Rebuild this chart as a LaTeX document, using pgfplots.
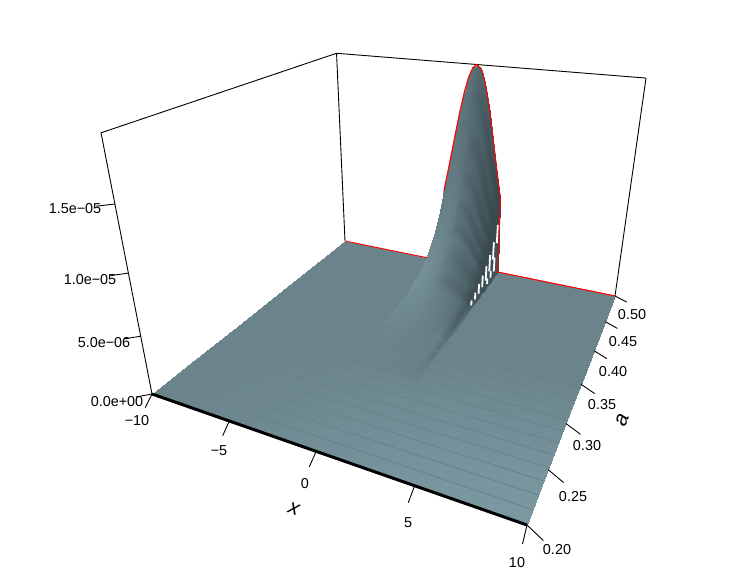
\documentclass[border=0pt]{standalone}
\usepackage{pgfplots}
\usepackage{pgfplotstable}
\usepackage{fontspec}
\setmainfont{Liberation Sans}
\pgfplotsset{compat=1.18}

% z is kept in units of 1e-5
\pgfplotstableread[row sep=\\]{
x a z s\\
-10 0.50 0 0.5\\ -5 0.50 0 0.5\\ 0 0.50 0 0.5\\ 5 0.50 0 0.5\\ 10 0.50 0 0.5\\
-10 0.36 0 0.5\\ -5 0.36 0 0.5\\ 0 0.36 0 0.5\\ 5 0.36 0 0.5\\ 10 0.36 0 0.5\\
-10 0.32 0 0.5\\ -5 0.32 0 0.5\\ 0 0.32 0 0.51\\ 5 0.32 0 0.53\\ 10 0.32 0 0.55\\
-10 0.28 0 0.5\\ -5 0.28 0 0.51\\ 0 0.28 0 0.54\\ 5 0.28 0 0.58\\ 10 0.28 0 0.6\\
-10 0.24 0 0.5\\ -5 0.24 0 0.52\\ 0 0.24 0 0.57\\ 5 0.24 0 0.62\\ 10 0.24 0 0.66\\
-10 0.20 0 0.5\\ -5 0.20 0 0.53\\ 0 0.20 0 0.6\\ 5 0.20 0 0.66\\ 10 0.20 0 0.7\\
}\ground

\pgfplotstableread[row sep=\\]{
x a z s\\
-2.1 0.50 0 0.5\\ -2 0.50 0.760 0.42\\ -1.5 0.50 1.152 0.42\\ -1 0.50 1.552 0.4\\ -0.75 0.50 1.724 0.39\\ -0.5 0.50 1.856 0.37\\ -0.25 0.50 1.94 0.35\\ 0 0.50 1.97 0.32\\ 0.25 0.50 1.94 0.3\\ 0.5 0.50 1.856 0.27\\ 0.75 0.50 1.724 0.24\\ 1 0.50 1.552 0.2\\ 1.5 0.50 1.152 0.16\\ 2 0.50 0.760 0.05\\ 2.1 0.50 0 0.15\\
-2.1 0.495 0 0.5\\ -2 0.495 0.665 0.42\\ -1.5 0.495 1.009 0.42\\ -1 0.495 1.359 0.4\\ -0.75 0.495 1.509 0.39\\ -0.5 0.495 1.624 0.37\\ -0.25 0.495 1.698 0.35\\ 0 0.495 1.724 0.28\\ 0.25 0.495 1.698 0.24\\ 0.5 0.495 1.624 0.2\\ 0.75 0.495 1.509 0.17\\ 1 0.495 1.359 0.13\\ 1.5 0.495 1.009 0.08\\ 2 0.495 0.665 0.05\\ 2.1 0.495 0 0.15\\
-2.1 0.49 0 0.52\\ -2 0.49 0.582 0.42\\ -1.5 0.49 0.883 0.42\\ -1 0.49 1.189 0.4\\ -0.75 0.49 1.320 0.39\\ -0.5 0.49 1.421 0.37\\ -0.25 0.49 1.486 0.35\\ 0 0.49 1.509 0.32\\ 0.25 0.49 1.486 0.3\\ 0.5 0.49 1.421 0.27\\ 0.75 0.49 1.320 0.24\\ 1 0.49 1.189 0.2\\ 1.5 0.49 0.883 0.16\\ 2 0.49 0.582 0.05\\ 2.1 0.49 0 0.15\\
-2.1 0.485 0 0.55\\ -2 0.485 0.510 0.44\\ -1.5 0.485 0.772 0.44\\ -1 0.485 1.040 0.42\\ -0.75 0.485 1.155 0.41\\ -0.5 0.485 1.243 0.39\\ -0.25 0.485 1.300 0.37\\ 0 0.485 1.320 0.29\\ 0.25 0.485 1.300 0.25\\ 0.5 0.485 1.243 0.21\\ 0.75 0.485 1.155 0.18\\ 1 0.485 1.040 0.14\\ 1.5 0.485 0.772 0.09\\ 2 0.485 0.510 0.05\\ 2.1 0.485 0 0.15\\
-2.1 0.48 0 0.58\\ -2 0.48 0.446 0.47\\ -1.5 0.48 0.676 0.46\\ -1 0.48 0.910 0.44\\ -0.75 0.48 1.011 0.43\\ -0.5 0.48 1.088 0.41\\ -0.25 0.48 1.138 0.38\\ 0 0.48 1.155 0.34\\ 0.25 0.48 1.138 0.31\\ 0.5 0.48 1.088 0.28\\ 0.75 0.48 1.011 0.25\\ 1 0.48 0.910 0.21\\ 1.5 0.48 0.676 0.17\\ 2 0.48 0.446 0.05\\ 2.1 0.48 0 0.15\\
-2.1 0.475 0 0.62\\ -2 0.475 0.390 0.5\\ -1.5 0.475 0.591 0.48\\ -1 0.475 0.797 0.46\\ -0.75 0.475 0.885 0.45\\ -0.5 0.475 0.952 0.43\\ -0.25 0.475 0.996 0.4\\ 0 0.475 1.011 0.32\\ 0.25 0.475 0.996 0.28\\ 0.5 0.475 0.952 0.24\\ 0.75 0.475 0.885 0.2\\ 1 0.475 0.797 0.16\\ 1.5 0.475 0.591 0.1\\ 2 0.475 0.390 0.05\\ 2.1 0.475 0 0.15\\
-2.1 0.47 0 0.66\\ -2 0.47 0.342 0.52\\ -1.5 0.47 0.518 0.5\\ -1 0.47 0.697 0.48\\ -0.75 0.47 0.774 0.46\\ -0.5 0.47 0.834 0.44\\ -0.25 0.47 0.872 0.41\\ 0 0.47 0.885 0.38\\ 0.25 0.47 0.872 0.35\\ 0.5 0.47 0.834 0.32\\ 0.75 0.47 0.774 0.28\\ 1 0.47 0.697 0.25\\ 1.5 0.47 0.518 0.2\\ 2 0.47 0.342 0.05\\ 2.1 0.47 0 0.15\\
-2.1 0.465 0 0.7\\ -2 0.465 0.299 0.54\\ -1.5 0.465 0.453 0.52\\ -1 0.465 0.610 0.5\\ -0.75 0.465 0.677 0.48\\ -0.5 0.465 0.729 0.46\\ -0.25 0.465 0.762 0.43\\ 0 0.465 0.774 0.33\\ 0.25 0.465 0.762 0.29\\ 0.5 0.465 0.729 0.26\\ 0.75 0.465 0.677 0.22\\ 1 0.465 0.610 0.19\\ 1.5 0.465 0.453 0.12\\ 2 0.465 0.299 0.05\\ 2.1 0.465 0 0.15\\
-2.1 0.46 0 0.72\\ -2 0.46 0.261 0.56\\ -1.5 0.46 0.396 0.54\\ -1 0.46 0.533 0.51\\ -0.75 0.46 0.592 0.49\\ -0.5 0.46 0.638 0.47\\ -0.25 0.46 0.667 0.44\\ 0 0.46 0.677 0.39\\ 0.25 0.46 0.667 0.36\\ 0.5 0.46 0.638 0.33\\ 0.75 0.46 0.592 0.29\\ 1 0.46 0.533 0.26\\ 1.5 0.46 0.396 0.2\\ 2 0.46 0.261 0.05\\ 2.1 0.46 0 0.15\\
-2.1 0.455 0 0.75\\ -2 0.455 0.229 0.58\\ -1.5 0.455 0.346 0.56\\ -1 0.455 0.466 0.53\\ -0.75 0.455 0.518 0.51\\ -0.5 0.455 0.558 0.48\\ -0.25 0.455 0.583 0.45\\ 0 0.455 0.592 0.35\\ 0.25 0.455 0.583 0.31\\ 0.5 0.455 0.558 0.28\\ 0.75 0.455 0.518 0.24\\ 1 0.455 0.466 0.2\\ 1.5 0.455 0.346 0.14\\ 2 0.455 0.229 0.05\\ 2.1 0.455 0 0.15\\
-2.1 0.45 0 0.78\\ -2 0.45 0.200 0.6\\ -1.5 0.45 0.304 0.58\\ -1 0.45 0.409 0.55\\ -0.75 0.45 0.454 0.53\\ -0.5 0.45 0.489 0.5\\ -0.25 0.45 0.511 0.46\\ 0 0.45 0.519 0.44\\ 0.25 0.45 0.511 0.41\\ 0.5 0.45 0.489 0.38\\ 0.75 0.45 0.454 0.34\\ 1 0.45 0.409 0.31\\ 1.5 0.45 0.304 0.26\\ 2 0.45 0.200 0.08\\ 2.1 0.45 0 0.15\\
-2.1 0.44 0 0.8\\ -2 0.44 0.153 0.62\\ -1.5 0.44 0.232 0.6\\ -1 0.44 0.313 0.57\\ -0.75 0.44 0.347 0.55\\ -0.5 0.44 0.374 0.52\\ -0.25 0.44 0.391 0.48\\ 0 0.44 0.397 0.4\\ 0.25 0.44 0.391 0.36\\ 0.5 0.44 0.374 0.33\\ 0.75 0.44 0.347 0.29\\ 1 0.44 0.313 0.26\\ 1.5 0.44 0.232 0.19\\ 2 0.44 0.153 0.08\\ 2.1 0.44 0 0.15\\
-2.1 0.43 0 0.8\\ -2 0.43 0.117 0.62\\ -1.5 0.43 0.178 0.6\\ -1 0.43 0.240 0.57\\ -0.75 0.43 0.266 0.55\\ -0.5 0.43 0.286 0.52\\ -0.25 0.43 0.299 0.48\\ 0 0.43 0.304 0.44\\ 0.25 0.43 0.299 0.41\\ 0.5 0.43 0.286 0.38\\ 0.75 0.43 0.266 0.34\\ 1 0.43 0.240 0.31\\ 1.5 0.43 0.178 0.26\\ 2 0.43 0.117 0.08\\ 2.1 0.43 0 0.2\\
-2.1 0.42 0 0.8\\ -2 0.42 0.090 0.62\\ -1.5 0.42 0.136 0.6\\ -1 0.42 0.184 0.57\\ -0.75 0.42 0.204 0.55\\ -0.5 0.42 0.219 0.52\\ -0.25 0.42 0.230 0.48\\ 0 0.42 0.233 0.42\\ 0.25 0.42 0.230 0.38\\ 0.5 0.42 0.219 0.35\\ 0.75 0.42 0.204 0.31\\ 1 0.42 0.184 0.28\\ 1.5 0.42 0.136 0.22\\ 2 0.42 0.090 0.1\\ 2.1 0.42 0 0.25\\
-2.1 0.41 0 0.75\\ -2 0.41 0.069 0.6\\ -1.5 0.41 0.104 0.58\\ -1 0.41 0.140 0.56\\ -0.75 0.41 0.156 0.55\\ -0.5 0.41 0.168 0.54\\ -0.25 0.41 0.175 0.52\\ 0 0.41 0.178 0.49\\ 0.25 0.41 0.175 0.47\\ 0.5 0.41 0.168 0.45\\ 0.75 0.41 0.156 0.43\\ 1 0.41 0.140 0.41\\ 1.5 0.41 0.104 0.36\\ 2 0.41 0.069 0.2\\ 2.1 0.41 0 0.35\\
-2.1 0.40 0 0.75\\ -2 0.40 0.052 0.58\\ -1.5 0.40 0.080 0.57\\ -1 0.40 0.107 0.56\\ -0.75 0.40 0.119 0.55\\ -0.5 0.40 0.128 0.54\\ -0.25 0.40 0.134 0.52\\ 0 0.40 0.136 0.49\\ 0.25 0.40 0.134 0.47\\ 0.5 0.40 0.128 0.45\\ 0.75 0.40 0.119 0.43\\ 1 0.40 0.107 0.41\\ 1.5 0.40 0.080 0.36\\ 2 0.40 0.052 0.2\\ 2.1 0.40 0 0.35\\
-2.1 0.38 0 0.72\\ -2 0.38 0.031 0.56\\ -1.5 0.38 0.047 0.55\\ -1 0.38 0.063 0.54\\ -0.75 0.38 0.070 0.53\\ -0.5 0.38 0.075 0.53\\ -0.25 0.38 0.079 0.52\\ 0 0.38 0.080 0.5\\ 0.25 0.38 0.079 0.48\\ 0.5 0.38 0.075 0.47\\ 0.75 0.38 0.070 0.45\\ 1 0.38 0.063 0.43\\ 1.5 0.38 0.047 0.4\\ 2 0.38 0.031 0.25\\ 2.1 0.38 0 0.4\\
-2.1 0.36 0 0.62\\ -2 0.36 0.018 0.52\\ -1.5 0.36 0.027 0.52\\ -1 0.36 0.037 0.52\\ -0.75 0.36 0.041 0.52\\ -0.5 0.36 0.044 0.51\\ -0.25 0.36 0.046 0.5\\ 0 0.36 0.047 0.49\\ 0.25 0.36 0.046 0.49\\ 0.5 0.36 0.044 0.48\\ 0.75 0.36 0.041 0.48\\ 1 0.36 0.037 0.47\\ 1.5 0.36 0.027 0.47\\ 2 0.36 0.018 0.35\\ 2.1 0.36 0 0.45\\
-2.1 0.30 0 0.5\\ -2 0.30 0 0.5\\ -1.5 0.30 0 0.5\\ -1 0.30 0 0.5\\ -0.75 0.30 0 0.5\\ -0.5 0.30 0 0.5\\ -0.25 0.30 0 0.5\\ 0 0.30 0 0.5\\ 0.25 0.30 0 0.5\\ 0.5 0.30 0 0.5\\ 0.75 0.30 0 0.5\\ 1 0.30 0 0.5\\ 1.5 0.30 0 0.5\\ 2 0.30 0 0.5\\ 2.1 0.30 0 0.5\\
}\ridge

% profile of the back row, a = 0.5
\pgfplotstableread[row sep=\\]{
x a z\\
-2.1 0.5 0\\ -2 0.5 0.760\\ -1.75 0.5 0.950\\ -1.5 0.5 1.152\\ -1.25 0.5 1.357\\ -1 0.5 1.552\\ -0.75 0.5 1.724\\ -0.5 0.5 1.856\\ -0.25 0.5 1.94\\ 0 0.5 1.97\\ 0.25 0.5 1.94\\ 0.5 0.5 1.856\\ 0.75 0.5 1.724\\ 1 0.5 1.552\\ 1.25 0.5 1.357\\ 1.5 0.5 1.152\\ 1.75 0.5 0.950\\ 2 0.5 0.760\\ 2.1 0.5 0\\ 10 0.5 0\\
}\backrow
\pgfplotstableread[row sep=\\]{
x a z\\
-2 0.5 0.760\\ -1.75 0.5 0.950\\ -1.5 0.5 1.152\\ -1.25 0.5 1.357\\ -1 0.5 1.552\\ -0.75 0.5 1.724\\ -0.5 0.5 1.856\\ -0.25 0.5 1.94\\ 0 0.5 1.97\\ 0.25 0.5 1.94\\ 0.5 0.5 1.856\\ 0.75 0.5 1.724\\ 1 0.5 1.552\\ 1.25 0.5 1.357\\ 1.5 0.5 1.152\\ 1.75 0.5 0.950\\ 2 0.5 0.760\\ 2.1 0.5 0\\ 10 0.5 0\\
}\backtop

% perspective of the box, fitted on its corners
\newcommand\uu{((\thisrow{x}+10)/20)}
\newcommand\vv{((\thisrow{a}-0.2)/0.3)}
\newcommand\ww{(\thisrow{z}/1.97)}
\newcommand\dd{(1-0.22116*\uu+0.46097*\vv-0.1641*\ww)}
\pgfplotsset{
  /pgfplots/table/proj/.style={
    x expr={(258.45*\uu+352.03*\vv+152-67.57*\ww)/\dd},
    y expr={(14.89*\uu-41.91*\vv+394-283*\ww)/\dd},
  },
}
\definecolor{stripecol}{RGB}{104,130,137}
\newcommand\seg[6]{\addplot[black, line width=0.9pt] table[row sep=\\, proj]{x a z\\ #1 #2 #3\\ #4 #5 #6\\};}
\newcommand\stripe[1]{\addplot[stripecol, line width=0.8pt] table[row sep=\\, proj]{x a z\\ -4 #1 0\\ 10 #1 0\\};}
% gaps in the wall on the right of the ridge
\newcommand\slit[3]{\addplot[white, line width=1.8pt] table[row sep=\\, proj]{x a z\\ 2.03 #1 #2\\ 2.03 #1 #3\\};}

\begin{document}
\begin{tikzpicture}[font=\fontsize{14.4}{16}\selectfont]
\begin{axis}[
  scale only axis, width=747pt, height=581pt,
  xmin=0, xmax=747, ymin=0, ymax=581, y dir=reverse,
  hide axis, clip=false,
  colormap={slate}{rgb255(0cm)=(50,65,70) rgb255(1cm)=(107,132,140) rgb255(2cm)=(150,185,195)},
  point meta min=0, point meta max=1,
]
\path (axis cs:0,0) (axis cs:747,581);

% box behind the surface
\seg{-10}{0.5}{0}{-10}{0.5}{1.97}
\seg{-10}{0.2}{0}{-10}{0.2}{1.97}
\seg{-10}{0.2}{1.97}{-10}{0.5}{1.97}
\seg{-10}{0.5}{1.97}{10}{0.5}{1.97}
\seg{10}{0.5}{0}{10}{0.5}{1.97}

\addplot[red, line width=1pt] table[proj] {\backrow};

\addplot[surf, shader=interp, mesh/cols=5, point meta=\thisrow{s}] table[proj] {\ground};
\addplot[surf, shader=interp, mesh/cols=15, point meta=\thisrow{s}] table[proj] {\ridge};

\slit{0.495}{0.33}{0.52}\slit{0.485}{0.2}{0.38}\slit{0.475}{0.12}{0.29}
\slit{0.465}{0.07}{0.22}\slit{0.455}{0.05}{0.17}\slit{0.445}{0.03}{0.13}
\slit{0.435}{0.02}{0.09}\slit{0.425}{0.01}{0.06}
\slit{0.49}{0.05}{0.2}\slit{0.48}{0.03}{0.1}\slit{0.47}{0.01}{0.07}

\stripe{0.213}\stripe{0.226}\stripe{0.239}\stripe{0.252}\stripe{0.265}\stripe{0.278}
\stripe{0.291}\stripe{0.304}\stripe{0.317}\stripe{0.330}\stripe{0.345}\stripe{0.360}

\addplot[black, line width=3pt] table[row sep=\\, proj]{x a z\\ -10 0.2 0\\ 10 0.2 0\\};
\addplot[red, line width=0.9pt] table[row sep=\\, proj]{x a z\\ -10 0.5 0\\ -3.2 0.5 0\\};
\addplot[red, line width=0.9pt] table[proj] {\backtop};

% ticks
\seg{-10}{0.2}{0}{-9.52}{0.1855}{0}
\seg{-5}{0.2}{0}{-4.62}{0.1855}{0}
\seg{0}{0.2}{0}{0.24}{0.1855}{0}
\seg{5}{0.2}{0}{5.15}{0.1855}{0}
\seg{10}{0.2}{0}{10.1}{0.1855}{0}
\seg{10}{0.20}{0}{10.8}{0.193}{0}
\seg{10}{0.25}{0}{10.8}{0.243}{0}
\seg{10}{0.30}{0}{10.8}{0.293}{0}
\seg{10}{0.35}{0}{10.8}{0.343}{0}
\seg{10}{0.40}{0}{10.8}{0.393}{0}
\seg{10}{0.45}{0}{10.8}{0.443}{0}
\seg{10}{0.50}{0}{10.8}{0.493}{0}
\seg{-10}{0.2}{0}{-10.58}{0.192}{0}
\seg{-10}{0.2}{0.5}{-10.58}{0.192}{0.5}
\seg{-10}{0.2}{1}{-10.58}{0.192}{1}
\seg{-10}{0.2}{1.5}{-10.58}{0.192}{1.5}

% tick labels
\node at (axis cs:75,209) {1.5e−05};
\node at (axis cs:90,280) {1.0e−05};
\node at (axis cs:104,343) {5.0e−06};
\node at (axis cs:117,402) {0.0e+00};
\node at (axis cs:137,421) {−10};
\node at (axis cs:219,451) {−5};
\node at (axis cs:305,484) {0};
\node at (axis cs:408,523) {5};
\node at (axis cs:517,563) {10};
\node at (axis cs:557,550) {0.20};
\node at (axis cs:573,497) {0.25};
\node at (axis cs:587,446) {0.30};
\node at (axis cs:602,405) {0.35};
\node at (axis cs:613,372) {0.40};
\node at (axis cs:623,342) {0.45};
\node at (axis cs:632,315) {0.50};
\node[font=\fontsize{21}{24}\selectfont\itshape, rotate=-19] at (axis cs:294,509) {x};
\node[font=\fontsize{21}{24}\selectfont\itshape, rotate=69] at (axis cs:622,420) {a};
\end{axis}
\end{tikzpicture}
\end{document}
